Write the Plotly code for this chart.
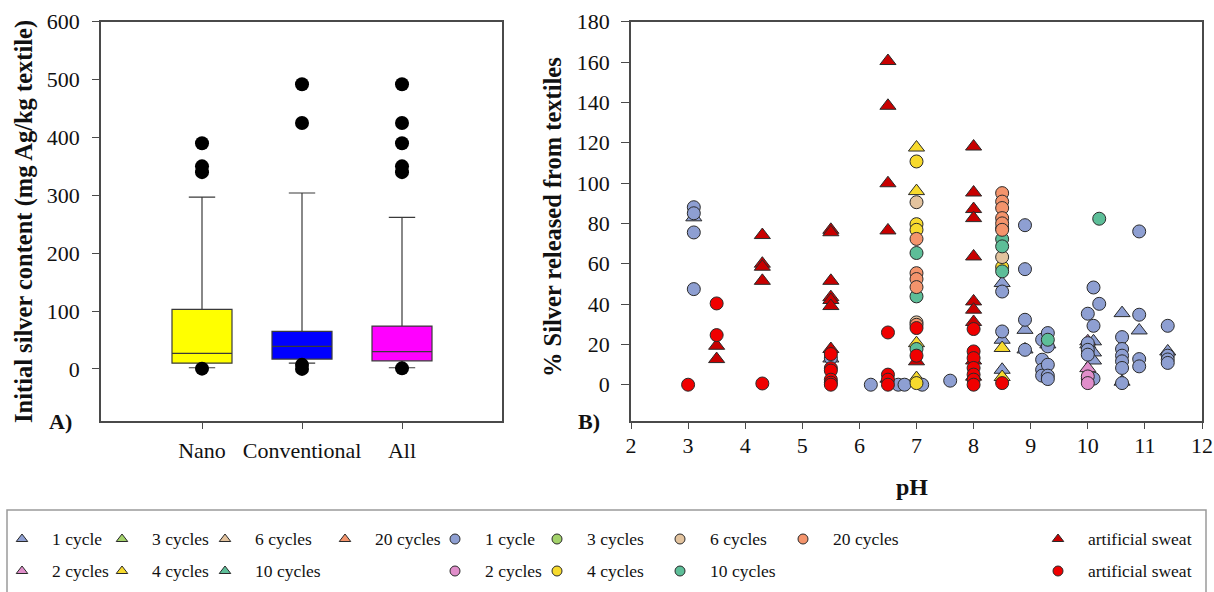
import plotly.graph_objects as go

# ---------------- Panel A: initial silver content box plots ----------------
groups = ["Nano", "Conventional", "All"]
q1 = [10, 17, 14]
median = [27, 39, 30]
q3 = [103, 65, 74]
lower_fence = [2, 10, 2]
upper_fence = [297, 304, 262]
box_colors = ["#FFFF00", "#0000FF", "#FF00FF"]
outliers = {
    "Nano": [390, 350, 340, 0.5],
    "Conventional": [492, 425, 7, 0],
    "All": [492, 425, 390, 350, 340, 1],
}

# ---------------- Panel B: % silver released vs pH ----------------
# triangles
tri_1cycle_ph = [3.1, 5.5, 8.5, 8.5, 8.5, 8.9, 8.9, 9.3, 10.0, 10.1, 10.1, 10.1, 10.6, 10.6, 10.9, 11.4]
tri_1cycle_val = [83, 13, 50.4, 22.3, 7.4, 27.2, 17.5, 20, 20, 21.5, 16, 12, 35.5, 1.5, 26.9, 16.5]
tri_2cycles_ph = [10.0, 10.0]
tri_2cycles_val = [21.5, 8.2]
tri_4cycles_ph = [7.0, 7.0, 7.0, 7.0, 8.5, 8.5]
tri_4cycles_val = [117.6, 96, 20.6, 3.3, 18.2, 3.8]
tri_sweat_ph = [3.5, 3.5, 4.3, 4.3, 4.3, 4.3, 5.5, 5.5, 5.5, 5.5, 5.5, 5.5, 5.5,
                6.5, 6.5, 6.5, 6.5, 6.5, 7.0, 8.0, 8.0, 8.0, 8.0, 8.0, 8.0, 8.0, 8.0, 8.0, 8.0]
tri_sweat_val = [19.3, 12.7, 74.2, 60, 58.5, 51.5, 76.8, 75.6, 51.5, 43.4, 42, 39, 17.7,
                 160.5, 138.3, 99.9, 76.5, 3, 11.6, 118.1, 95.3, 87.1, 82.6, 63.6, 41.3, 37.2, 31.1, 12, 4]

# circles
cir_1cycle_ph = [3.1, 3.1, 3.1, 3.1, 5.5, 6.2, 6.68, 6.79, 7.1, 7.59, 8.5, 8.5,
                 8.9, 8.9, 8.9, 8.9, 9.2, 9.2, 9.2, 9.2, 9.3, 9.3, 9.3, 9.3, 9.3,
                 10.0, 10.0, 10.0, 10.0, 10.0, 10.1, 10.1, 10.1, 10.2,
                 10.6, 10.6, 10.6, 10.6, 10.6, 10.6, 10.9, 10.9, 10.9, 10.9,
                 11.4, 11.4, 11.4, 11.4]
cir_1cycle_val = [88, 85, 75.5, 47.4, 13.2, 0, 0, 0, 0, 2, 46.2, 26.4,
                  79.1, 57.3, 32.2, 17.3, 22.3, 12.4, 7.4, 4.5, 25.6, 19, 9.9, 4.5, 2.8,
                  35.2, 20.6, 17.3, 14.9, 3, 48.2, 29.2, 3, 40.1,
                  23.6, 17.7, 14.4, 11.6, 8.3, 0.8, 76, 34.7, 12.7, 9.1,
                  29.2, 14.4, 12.5, 10.8]
cir_2cycles_ph = [10.0, 10.0]
cir_2cycles_val = [4.1, 0.8]
cir_4cycles_ph = [7.0, 7.0, 7.0, 7.0, 8.5]
cir_4cycles_val = [110.7, 79.6, 76.8, 0.8, 58.3]
cir_6cycles_ph = [7.0, 7.0, 8.5]
cir_6cycles_val = [90.5, 30.9, 63.3]
cir_10cycles_ph = [7.0, 7.0, 7.0, 8.5, 8.5, 8.5, 8.5, 9.3, 10.2]
cir_10cycles_val = [65.3, 43.8, 17.7, 77.6, 72.2, 68.6, 56.2, 22.3, 82.3]
cir_20cycles_ph = [7.0, 7.0, 7.0, 7.0, 7.0, 8.5, 8.5, 8.5, 8.5, 8.5, 8.5]
cir_20cycles_val = [72.3, 55.3, 52.4, 48.4, 29.7, 95, 90.8, 87.6, 82.6, 80, 76.8]
cir_sweat_ph = [3.0, 3.5, 3.5, 4.3, 5.5, 5.5, 5.5, 5.5, 5.5, 5.5, 6.5, 6.5, 6.5, 6.5,
                7.0, 7.0, 8.0, 8.0, 8.0, 8.0, 8.0, 8.0, 8.0, 8.5]
cir_sweat_val = [0, 40.3, 24.6, 0.6, 15.2, 8.2, 7, 2.5, 1, 0, 25.9, 5, 2.5, 0,
                 28.1, 14.4, 27.6, 16.5, 13.2, 8.3, 5, 2.5, 0, 0.8]

# legend entries
legend_labels = ["1 cycle", "2 cycles", "3 cycles", "4 cycles", "6 cycles", "10 cycles", "20 cycles",
                 "1 cycle", "2 cycles", "3 cycles", "4 cycles", "6 cycles", "10 cycles", "20 cycles",
                 "artificial sweat", "artificial sweat"]

C_BLUE = "#8E9FD2"
C_PINK = "#E08ECA"
C_GREEN = "#A3D26A"
C_YELLOW = "#F7DA2D"
C_TAN = "#E3C39E"
C_TEAL = "#5DBE98"
C_SALMON = "#F4946C"
C_DARKRED = "#C80000"
C_RED = "#F00000"

legend_symbols = ["triangle-up"] * 7 + ["circle"] * 7 + ["triangle-up", "circle"]
legend_colors = [C_BLUE, C_PINK, C_GREEN, C_YELLOW, C_TAN, C_TEAL, C_SALMON,
                 C_BLUE, C_PINK, C_GREEN, C_YELLOW, C_TAN, C_TEAL, C_SALMON,
                 C_DARKRED, C_RED]
legend_cols = [0, 0, 1, 1, 2, 2, 3, 4, 4, 5, 5, 6, 6, 7, 8, 8]
legend_rows = [0, 1, 0, 1, 0, 1, 0, 0, 1, 0, 1, 0, 1, 0, 0, 1]

SERIF = "Liberation Serif"
W, H = 1214, 592

fig = go.Figure()

# ---- boxes
for g, a, m, b, lo, hi, col in zip(groups, q1, median, q3, lower_fence, upper_fence, box_colors):
    fig.add_trace(go.Box(
        x=[g], q1=[a], median=[m], q3=[b], lowerfence=[lo], upperfence=[hi],
        fillcolor=col, line=dict(color="#3a3a3a", width=1.2),
        width=0.6, whiskerwidth=0.44, boxpoints=False, showlegend=False,
        xaxis="x", yaxis="y",
    ))
for g in groups:
    fig.add_trace(go.Scatter(
        x=[g] * len(outliers[g]), y=outliers[g], mode="markers",
        marker=dict(color="black", size=14), showlegend=False,
        xaxis="x", yaxis="y",
    ))

# ---- scatter series
def pts(ph, val, symbol, color, size):
    fig.add_trace(go.Scatter(
        x=ph, y=val, mode="markers",
        marker=dict(symbol=symbol, color=color, size=size,
                    line=dict(color="#2a2a2a", width=1)),
        showlegend=False, xaxis="x2", yaxis="y2",
    ))

TRI, CIR = 14, 13
pts(tri_1cycle_ph, tri_1cycle_val, "triangle-up", C_BLUE, TRI)
pts(tri_2cycles_ph, tri_2cycles_val, "triangle-up", C_PINK, TRI)
pts(tri_4cycles_ph, tri_4cycles_val, "triangle-up", C_YELLOW, TRI)
pts(tri_sweat_ph, tri_sweat_val, "triangle-up", C_DARKRED, TRI)
pts(cir_1cycle_ph, cir_1cycle_val, "circle", C_BLUE, CIR)
pts(cir_2cycles_ph, cir_2cycles_val, "circle", C_PINK, CIR)
pts(cir_4cycles_ph, cir_4cycles_val, "circle", C_YELLOW, CIR)
pts(cir_6cycles_ph, cir_6cycles_val, "circle", C_TAN, CIR)
pts(cir_10cycles_ph, cir_10cycles_val, "circle", C_TEAL, CIR)
pts(cir_20cycles_ph, cir_20cycles_val, "circle", C_SALMON, CIR)
pts(cir_sweat_ph, cir_sweat_val, "circle", C_RED, CIR)

# ---- legend drawn on a pixel-scaled axis below the panels
LEG_TOP = 510
col_x = [22, 122, 225, 345, 455, 557, 680, 803, 1058]
row_y = [539, 571]
lx = [col_x[c] for c in legend_cols]
ly = [row_y[r] for r in legend_rows]
fig.add_trace(go.Scatter(
    x=lx, y=ly, mode="markers",
    marker=dict(symbol=legend_symbols, color=legend_colors, size=10,
                line=dict(color="#2a2a2a", width=1)),
    showlegend=False, xaxis="x3", yaxis="y3", hoverinfo="skip", cliponaxis=False,
))
annotations = []
for x, y, t in zip(lx, ly, legend_labels):
    annotations.append(dict(x=x + 28, y=y, xref="x3", yref="y3", text=t, showarrow=False,
                            xanchor="left", yanchor="middle",
                            font=dict(family=SERIF, size=17.5, color="#111")))

# axis titles and panel tags
def paper_text(px, py, text, size, angle=0):
    return dict(x=px / W, y=1 - py / H, xref="paper", yref="paper", text=text,
                textangle=angle, showarrow=False, xanchor="center", yanchor="middle",
                font=dict(family=SERIF, size=size, color="#111"))

annotations += [
    paper_text(24, 222, "<b>Initial silver content (mg Ag/kg textile)</b>", 24.5, -90),
    paper_text(552, 217, "<b>% Silver released from textiles</b>", 24.5, -90),
    paper_text(912, 487, "<b>pH</b>", 24),
    paper_text(60, 421, "<b>A)</b>", 22),
    paper_text(589, 421, "<b>B)</b>", 22),
]

axis_common = dict(showgrid=False, zeroline=False, showline=True, linecolor="#4a4a4a", linewidth=1.5,
                   ticks="outside", tickcolor="#4a4a4a", tickwidth=1.3, automargin=False,
                   tickfont=dict(family=SERIF, size=22, color="#111"))

plot_bottom = 1 - 421 / H
plot_top = 1 - 21.7 / H

fig.update_layout(
    width=W, height=H, margin=dict(l=0, r=0, t=0, b=0, autoexpand=False),
    paper_bgcolor="white", plot_bgcolor="rgba(0,0,0,0)",
    xaxis=dict(domain=[101 / W, 502 / W], range=[-1.01, 3], type="category",
               categoryorder="array", categoryarray=groups, mirror=True, anchor="y",
               ticklen=6, ticklabelstandoff=3, **axis_common),
    yaxis=dict(domain=[plot_bottom, plot_top], range=[-90, 600], tick0=0, dtick=100,
               mirror=True, anchor="x", ticklen=7, ticklabelstandoff=8, **axis_common),
    xaxis2=dict(domain=[631 / W, 1202 / W], range=[2, 12], dtick=1, anchor="y2",
                mirror=True, ticklen=6, ticklabelstandoff=-2, **axis_common),
    yaxis2=dict(domain=[plot_bottom, plot_top], range=[-18, 180], dtick=20, anchor="x2",
                mirror=True, ticklen=8, ticklabelstandoff=7, **axis_common),
    xaxis3=dict(domain=[0, 1], range=[0, W], visible=False, anchor="y3", fixedrange=True),
    yaxis3=dict(domain=[0, 1 - LEG_TOP / H], range=[H, LEG_TOP], visible=False, anchor="x3",
                fixedrange=True),
    annotations=annotations,
    shapes=[dict(type="rect", xref="paper", yref="paper", x0=7 / W, x1=1206 / W,
                 y0=-0.05, y1=1 - LEG_TOP / H, line=dict(color="#9a9a9a", width=1.5))],
)

fig.write_html("out.html")
